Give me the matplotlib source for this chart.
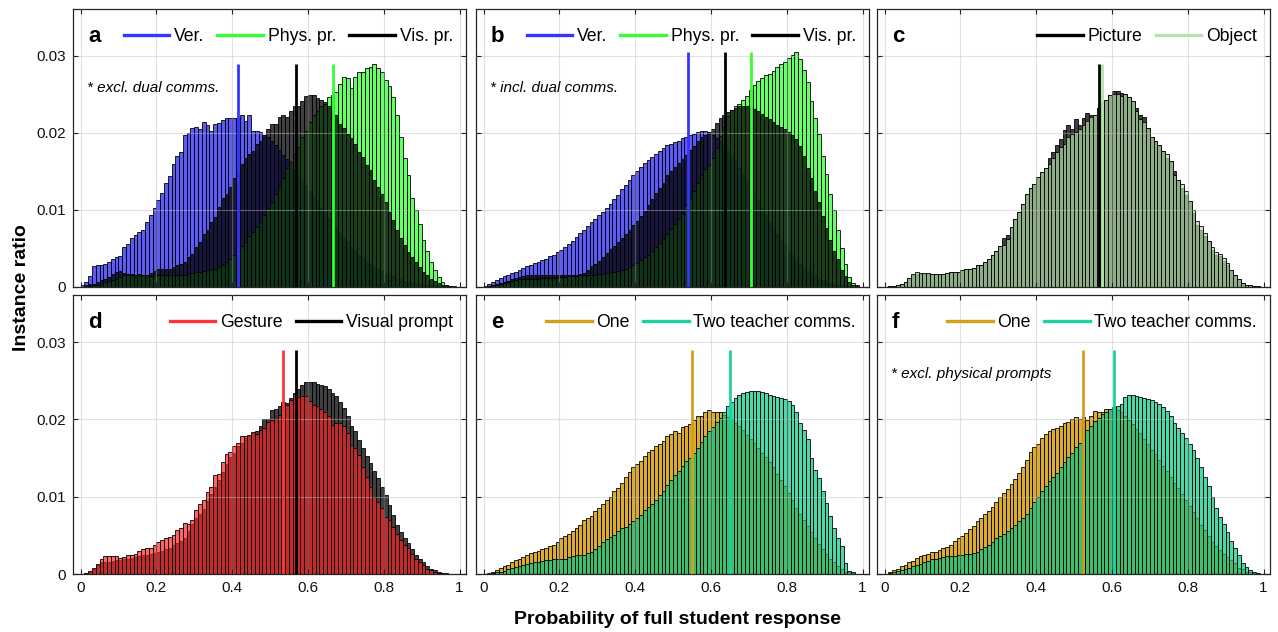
import numpy as np
import matplotlib
matplotlib.use("Agg")
import matplotlib.pyplot as plt
from matplotlib.lines import Line2D

plt.rcParams['font.family'] = ['Liberation Sans', 'DejaVu Sans']

# ---------------- data (instance ratio, in units of 1e-4, 100 bins of width 0.01) ----------------
UNIT = 1e-4
bin_left = np.arange(100) / 100.0

ver_a = [2,6,14,27,29,28,30,32,37,39, 40,52,56,63,67,72,74,84,94,102,
         113,122,135,144,160,170,175,197,200,207, 208,205,214,210,203,212,213,217,220,220,
         219,219,224,216,223,203,203,201,198,195, 190,184,178,172,166,160,153,146,139,132,
         125,118,110,103,96,89,82,76,70,64, 58,52,47,42,38,34,30,27,24,21,
         18,16,14,12,10,8,7,6,5,4, 3,3,2,2,1,1,1,0,0,0]
phys_a = [0,0,1,2,3,4,6,8,9,11, 13,15,16,16,16,15,15,15,14,15,
          15,15,15,15,16,16,16,16,17,18, 19,19,21,22,23,24,26,28,32,37,
          41,45,53,58,66,71,78,84,93,102, 110,121,130,141,154,162,173,182,195,203,
          214,223,229,235,238,247,249,253,264,273, 271,259,273,279,279,284,286,289,284,279,
          269,261,247,224,195,167,145,115,100,82, 61,47,32,22,13,6,3,1,1,0]
vis_a = [0,2,4,4,6,9,11,13,17,19, 21,18,17,17,16,17,16,16,18,21,
         23,23,23,23,26,28,30,32,39,43, 52,58,69,74,84,91,104,115,121,130,
         141,149,160,167,173,177,186,190,197,205, 212,212,221,223,221,229,235,235,242,248,
         249,249,246,243,240,235,229,223,212,206, 199,193,186,175,169,158,152,139,130,121,
         110,97,87,74,63,54,45,39,32,26, 19,15,11,8,5,3,2,1,0,0]

ver_b = [1,4,6,9,12,14,16,18,20,22, 25,27,29,31,33,35,37,40,42,45,
         48,52,56,60,65,70,74,79,84,88, 93,98,103,108,114,120,127,133,139,145,
         150,156,161,165,169,173,177,181,184,186, 188,190,193,195,197,199,201,203,203,201,
         198,194,189,183,177,170,163,155,147,139, 130,121,112,103,94,85,77,69,61,54,
         47,41,35,30,25,21,17,14,11,9, 7,5,4,3,2,1,1,0,0,0]
phys_b = [0,1,2,3,4,5,6,8,9,10, 10,11,11,11,11,12,12,12,12,13,
          13,13,14,14,14,15,15,15,16,16, 17,17,18,19,20,21,22,24,26,29,
          31,35,39,42,47,52,57,62,69,75, 82,88,96,106,116,125,135,145,153,159,
          168,180,196,208,222,230,235,238,243,248, 256,262,267,271,275,277,281,286,289,292,
          297,301,305,296,282,266,241,220,199,170, 147,121,100,74,50,30,13,5,2,0]
vis_b = [0,1,2,4,5,6,8,10,12,13, 14,15,15,15,16,16,16,16,16,16,
         15,15,16,16,16,17,18,22,27,30, 34,39,44,49,53,58,64,69,74,80,
         86,92,99,107,114,122,128,135,145,151, 156,161,166,172,178,183,189,195,198,201,
         205,213,219,224,227,230,233,235,235,235, 234,231,228,225,221,218,214,210,208,205,
         201,197,192,183,170,155,141,125,110,92, 77,61,47,36,22,14,7,3,1,0]

pic_c = [0,1,1,2,4,7,12,15,17,17, 17,17,17,17,17,17,18,19,19,20,
         22,23,23,25,28,29,33,37,41,47, 53,63,67,78,88,97,108,121,128,134,
         143,149,155,167,175,184,192,204,210,205, 218,210,220,226,224,223,233,240,243,249,
         255,255,252,251,247,241,233,223,221,207, 195,189,184,177,168,163,150,139,128,120,
         112,96,80,74,66,60,48,42,40,34, 28,22,15,10,5,3,2,1,1,0]
obj_c = [0,1,1,2,4,7,12,17,19,18, 18,18,17,17,17,17,18,19,19,20,
         22,23,23,25,28,29,33,37,41,47, 53,55,62,78,88,97,108,121,128,134,
         143,149,155,160,167,175,182,186,195,199, 201,205,211,216,221,223,233,240,243,249,
         250,250,248,251,247,241,228,218,214,207, 195,189,184,177,173,163,145,139,134,125,
         112,100,86,79,70,60,52,46,43,38, 31,22,15,10,5,3,2,1,1,0]

gest_d = [0,1,4,8,13,20,23,23,23,23, 21,22,24,25,26,30,32,34,34,38,
          42,44,46,48,50,57,60,66,65,70, 83,91,96,106,113,128,130,145,155,158,
          166,169,178,179,180,184,181,186,189,197, 199,200,206,219,219,225,233,229,230,230,
          224,219,218,214,210,204,193,195,195,191, 182,167,163,154,139,126,113,100,93,86,
          74,70,61,52,44,37,33,26,20,16, 11,7,5,3,1,1,0,0,0,0]
vis_d = [0,1,3,6,11,15,15,16,17,18, 18,19,20,21,22,23,24,25,26,27,
         28,30,32,34,37,40,43,47,55,65, 72,77,84,94,104,113,122,132,142,151,
         157,165,170,176,179,183,185,191,201,200, 212,213,217,223,221,228,234,239,244,248,
         249,249,246,245,243,239,234,230,223,215, 205,192,185,174,163,153,144,133,124,113,
         102,89,76,64,54,47,40,32,25,19, 15,10,7,5,3,1,1,0,0,0]

one_e = [0,1,3,5,8,10,12,15,18,20, 22,24,27,28,30,32,34,36,37,42,
         46,49,52,56,59,64,70,72,75,81, 86,91,96,100,107,111,118,126,132,138,
         142,146,153,158,161,166,168,172,178,181, 185,183,190,192,194,199,204,205,209,212,
         210,210,209,206,203,200,195,191,186,180, 175,169,163,157,151,145,138,129,121,114,
         105,96,86,78,70,62,54,47,39,32, 26,20,15,10,6,3,2,1,0,0]
two_e = [0,0,1,2,3,4,6,8,9,10, 12,13,14,15,16,17,18,18,19,19,
         19,20,22,23,24,24,25,27,29,32, 36,41,45,48,51,56,59,61,65,68,
         72,76,83,87,91,96,102,108,115,122, 128,133,140,146,150,156,163,171,178,185,
         190,197,202,210,217,222,228,232,234,236, 237,237,237,236,234,232,230,229,228,226,
         224,219,209,196,186,175,150,135,124,107, 92,75,60,46,36,14,4,2,0,0]

one_f = [0,2,5,7,10,12,15,17,21,23, 25,26,28,29,31,33,35,37,43,47,
         49,53,58,62,68,72,77,82,87,93, 99,105,110,116,123,131,138,148,158,164,
         168,176,181,185,187,189,192,195,197,200, 203,200,203,199,204,211,209,210,213,214,
         213,212,209,205,199,194,188,182,175,168, 161,155,147,140,133,125,118,111,103,96,
         88,80,72,64,57,49,42,36,31,26, 22,18,14,8,6,3,2,1,0,0]
two_f = [0,1,3,4,5,7,8,10,11,13, 15,17,19,20,21,22,23,23,23,24,
         25,26,26,27,29,32,35,37,41,46, 49,52,56,59,63,68,72,78,85,93,
         100,107,114,120,125,131,138,145,151,157, 164,170,180,186,192,198,202,207,210,213,
         216,218,220,229,232,231,230,229,228,226, 225,223,220,216,211,205,196,189,182,176,
         168,160,150,138,126,114,99,86,74,65, 54,43,33,24,14,9,5,2,1,0]

# mean markers (probability) and their heights
means_a = [0.416, 0.666, 0.569]
means_b = [0.540, 0.705, 0.638]
means_c = [0.566, 0.573]
means_d = [0.535, 0.569]
means_e = [0.551, 0.649]
means_f = [0.523, 0.606]
mean_top = [0.029, 0.0305, 0.029, 0.029, 0.029, 0.029]

x_ticks = [0, 0.2, 0.4, 0.6, 0.8, 1]
x_tick_labels = ['0', '0.2', '0.4', '0.6', '0.8', '1']
y_ticks = [0, 0.01, 0.02, 0.03]
y_tick_labels = ['0', '0.01', '0.02', '0.03']

# ---------------- styles ----------------
BLUE = dict(face=(0.15, 0.15, 0.95, 0.75), line='#3535ff')
GREEN = dict(face=(0.2, 1.0, 0.2, 0.75), line='#33ff33')
BLACK = dict(face=(0.0, 0.0, 0.0, 0.75), line='#000000')
OBJ = dict(face=(0.69, 0.87, 0.65, 0.7), line='#b5e3ae')
RED = dict(face=(1.0, 0.13, 0.13, 0.7), line='#ff3333')
GOLD = dict(face=(0.84, 0.62, 0.05, 0.85), line='#d4a017')
TEAL = dict(face=(0.0, 0.78, 0.52, 0.7), line='#19d3a0')

# each panel: (letter, [(label, values, style, mean)] in legend order, draw order, note)
panels = [
    ('a', [('Ver.', ver_a, BLUE, means_a[0]), ('Phys. pr.', phys_a, GREEN, means_a[1]),
           ('Vis. pr.', vis_a, BLACK, means_a[2])], [0, 1, 2], '* excl. dual comms.'),
    ('b', [('Ver.', ver_b, BLUE, means_b[0]), ('Phys. pr.', phys_b, GREEN, means_b[1]),
           ('Vis. pr.', vis_b, BLACK, means_b[2])], [0, 1, 2], '* incl. dual comms.'),
    ('c', [('Picture', pic_c, BLACK, means_c[0]), ('Object', obj_c, OBJ, means_c[1])],
     [0, 1], None),
    ('d', [('Gesture', gest_d, RED, means_d[0]), ('Visual prompt', vis_d, BLACK, means_d[1])],
     [1, 0], None),
    ('e', [('One', one_e, GOLD, means_e[0]), ('Two teacher comms.', two_e, TEAL, means_e[1])],
     [0, 1], None),
    ('f', [('One', one_f, GOLD, means_f[0]), ('Two teacher comms.', two_f, TEAL, means_f[1])],
     [0, 1], '* excl. physical prompts'),
]

W, H = 1278, 632
fig = plt.figure(figsize=(W / 100, H / 100), dpi=100)

col_left = [73, 476, 877]
col_w = 393
row_top = [9, 295]
row_h = [278, 279]

for k, (letter, series, order, note) in enumerate(panels):
    r, c = divmod(k, 3)
    left = col_left[c] / W
    bottom = 1 - (row_top[r] + row_h[r]) / H
    ax = fig.add_axes([left, bottom, col_w / W, row_h[r] / H])

    for z, idx in enumerate(order):
        label, vals, st, m = series[idx]
        ax.bar(bin_left, np.asarray(vals) * UNIT, width=0.01, align='edge',
               facecolor=st['face'], edgecolor=(0, 0, 0, 0.85), linewidth=0.7,
               zorder=1 + 0.1 * z)
    for z, idx in enumerate(order):
        label, vals, st, m = series[idx]
        ax.plot([m, m], [0, mean_top[k]], color=st['line'], lw=2.0,
                solid_capstyle='butt', zorder=3 + 0.1 * z)

    handles = [Line2D([0], [0], color=st['line'], lw=2.4) for (_, _, st, _) in series]
    labels = [s[0] for s in series]
    ax.legend(handles, labels, loc='upper right', ncol=len(series), frameon=False,
              fontsize=12.7, handlelength=2.6, handletextpad=0.25, columnspacing=0.75,
              borderaxespad=0.35, borderpad=0.4, bbox_to_anchor=(1.0, 0.978))

    ax.text(0.038, 0.9, letter, transform=ax.transAxes, fontsize=16,
            fontweight='bold', ha='left', va='center')
    if note:
        ax.text(0.036, 0.716, note, transform=ax.transAxes, fontsize=11,
                style='italic', ha='left', va='center')

    ax.set_xlim(-0.02, 1.017)
    ax.set_ylim(0, 0.0361)
    ax.set_xticks(x_ticks)
    ax.set_yticks(y_ticks)
    if r == 1:
        ax.set_xticklabels(x_tick_labels)
    else:
        ax.set_xticklabels([])
    if c == 0:
        ax.set_yticklabels(y_tick_labels)
    else:
        ax.set_yticklabels([])
    ax.tick_params(direction='in', top=True, right=True, length=3.5, width=0.8,
                   labelsize=11, pad=5, colors='#222222', labelcolor='#111111')
    ax.set_axisbelow(False)
    ax.grid(True, color='#c0c0c0', alpha=0.45, lw=0.8)
    for sp in ax.spines.values():
        sp.set_color('#262626')
        sp.set_linewidth(0.9)

fig.text(22 / W, 1 - 288 / H, 'Instance ratio', rotation=90, fontsize=14,
         fontweight='bold', ha='center', va='center')
fig.text(677 / W, 1 - 619 / H, 'Probability of full student response', fontsize=14,
         fontweight='bold', ha='center', va='center')

fig.savefig('out.png', dpi=100)
